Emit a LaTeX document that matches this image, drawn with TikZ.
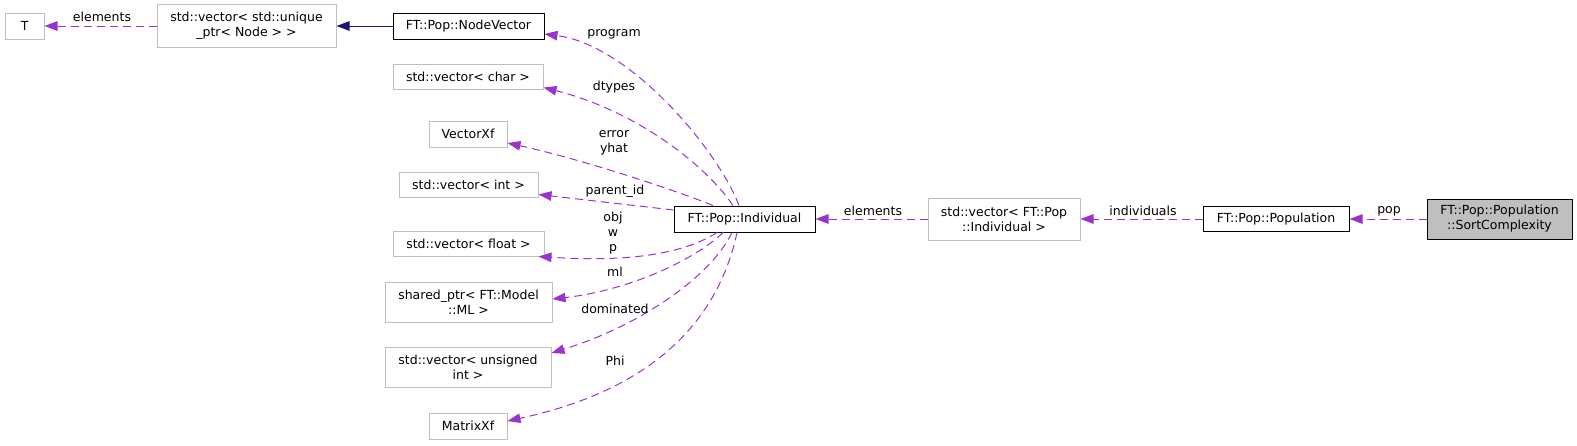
\documentclass[tikz,border=0pt]{standalone}
\usepackage{fontspec}
\setmainfont{DejaVu Sans}
\usetikzlibrary{arrows.meta}
\definecolor{dep}{HTML}{9A32CD}
\definecolor{grey75}{HTML}{BFBFBF}
\definecolor{inh}{HTML}{191970}
\begin{document}
\begin{tikzpicture}[x=1pt,y=-1pt,
  every node/.style={font=\fontsize{12.5}{15}\selectfont},
  box/.style={draw, line width=1pt, inner sep=0pt, align=center},
  gbox/.style={box, draw=grey75},
  bbox/.style={box, draw=black},
  lbl/.style={inner sep=0pt, align=center},
  depedge/.style={draw=dep, line width=1pt, dash pattern=on 8pt off 5pt, -{Triangle[length=13pt,width=9.5pt,fill=dep,sep=0pt]}, shorten >=0pt},
  inhedge/.style={draw=inh, line width=1pt, -{Triangle[length=13pt,width=9.5pt,fill=inh]}}
]
\useasboundingbox (0,0) rectangle (1577,445);
% nodes
\node[gbox, minimum width=38.6pt, minimum height=26pt] (T) at (24.7,26) {T};
\node[gbox, minimum width=179pt, minimum height=43pt] (uptr) at (246.5,26) {std::vector< std::unique\\\_ptr< Node > >};
\node[bbox, minimum width=151pt, minimum height=26pt] (nv) at (468.5,26) {FT::Pop::NodeVector};
\node[gbox, minimum width=150pt, minimum height=25pt] (vchar) at (468,76.5) {std::vector< char >};
\node[gbox, minimum width=78pt, minimum height=26pt] (vxf) at (468,134) {VectorXf};
\node[gbox, minimum width=139pt, minimum height=25pt] (vint) at (468.5,184.5) {std::vector< int >};
\node[gbox, minimum width=151pt, minimum height=25pt] (vfloat) at (468.5,243.5) {std::vector< float >};
\node[gbox, minimum width=167pt, minimum height=40pt] (sptr) at (468.5,302) {shared\_ptr< FT::Model\\::ML >};
\node[gbox, minimum width=166pt, minimum height=40pt] (vuint) at (468,367) {std::vector< unsigned\\int >};
\node[gbox, minimum width=78pt, minimum height=26pt] (mxf) at (468,426) {MatrixXf};
\node[bbox, minimum width=141pt, minimum height=26pt] (ind) at (744.5,219) {FT::Pop::Individual};
\node[gbox, minimum width=152pt, minimum height=42pt] (vind) at (1004,219) {std::vector< FT::Pop\\::Individual >};
\node[bbox, minimum width=146pt, minimum height=25pt] (popn) at (1276,219) {FT::Pop::Population};
\node[bbox, fill=grey75, minimum width=145pt, minimum height=40pt] (sc) at (1499.5,219) {FT::Pop::Population\\::SortComplexity};
% edges
\draw[inhedge] (nv.west) -- (uptr.east);
\draw[depedge] (uptr.west) -- (T.east);
\draw[depedge] ([xshift=-5.5pt]ind.north) .. controls (718,150) and (630,45) .. ([yshift=-8pt]nv.east);
\draw[depedge] ([xshift=-11.5pt]ind.north) .. controls (708,168) and (640,112) .. ([yshift=-11pt]vchar.east);
\draw[depedge] ([xshift=-31.5pt]ind.north) .. controls (680,192) and (585,160) .. ([yshift=-9pt]vxf.east);
\draw[depedge] ([yshift=9pt]ind.west) -- ([yshift=-10pt]vint.east);
\draw[depedge] ([xshift=-27.5pt]ind.south) .. controls (682,255) and (625,262) .. ([xshift=-6pt]vfloat.south east);
\draw[depedge] ([xshift=-21.5pt]ind.south) .. controls (697,258) and (632,290) .. ([yshift=3pt]sptr.east);
\draw[depedge] ([xshift=-12.5pt]ind.south) .. controls (712,275) and (642,325) .. ([yshift=14pt]vuint.east);
\draw[depedge] ([xshift=-7.5pt]ind.south) .. controls (716,330) and (642,392) .. ([yshift=5pt]mxf.east);
\draw[depedge] (vind.west) -- (ind.east);
\draw[depedge] (popn.west) -- (vind.east);
\draw[depedge] (sc.west) -- (popn.east);
% labels
\node[lbl] (lT) at (102,17) {elements};
\node[lbl] (lprog) at (614,34) {program};
\node[lbl] (ldt) at (614,87) {dtypes};
\node[lbl] (lerr) at (614,142.5) {error\\yhat};
\node[lbl] (lpid) at (615,191) {parent\_id};
\node[lbl] (lobj) at (613,233) {obj\\w\\p};
\node[lbl] (lml) at (615,272) {ml};
\node[lbl] (ldom) at (615,309) {dominated};
\node[lbl] (lphi) at (615,361) {Phi};
\node[lbl] (lel) at (873,211) {elements};
\node[lbl] (lind) at (1143,211) {individuals};
\node[lbl] (lpop) at (1389,211) {pop};
\end{tikzpicture}
\end{document}
